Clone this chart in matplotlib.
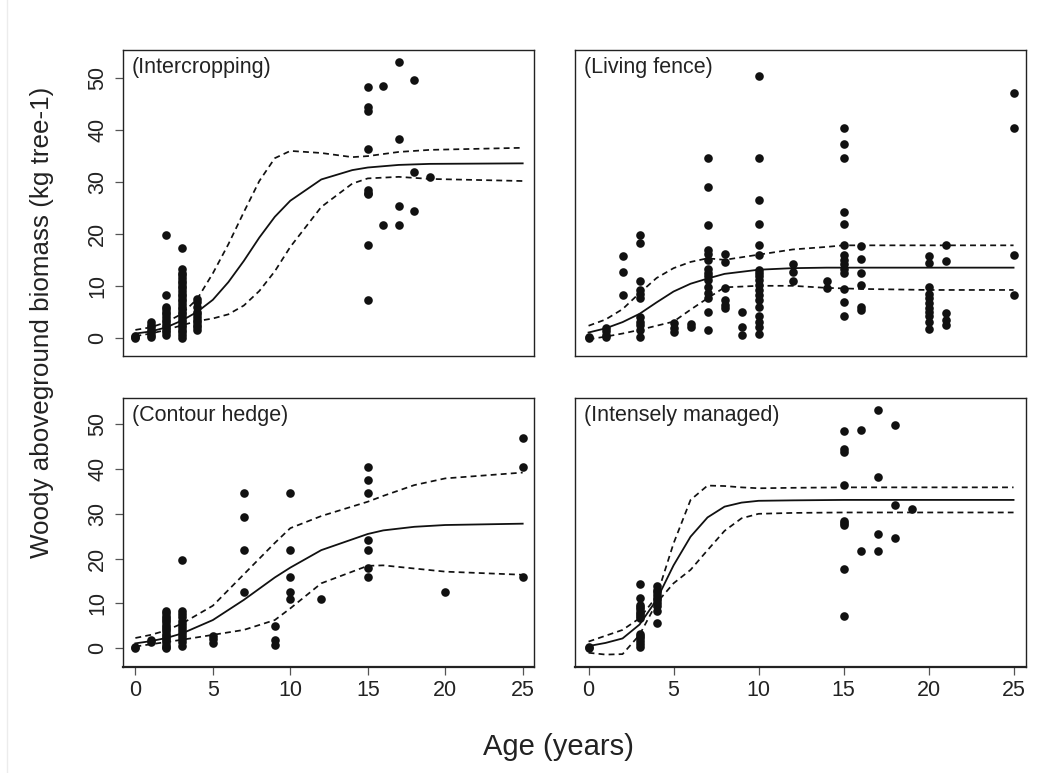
import matplotlib
matplotlib.use("Agg")
import matplotlib.pyplot as plt
from matplotlib.lines import Line2D
import numpy as np

plt.rcParams['font.family'] = ['Liberation Sans', 'DejaVu Sans']

W, H = 1052, 773

# ---- Intercropping: observed biomass per age
ic_ages = [0, 1, 2, 3, 4, 15, 16, 17, 18, 19]
ic_mass = [[0.0, 0.2, 0.4],
           [0.2, 0.6, 1.0, 1.5, 2.0, 2.5, 3.1],
           [19.8, 8.2, 6.0, 5.5, 5.0, 4.5, 4.0, 3.5, 3.0, 2.5, 2.0, 1.5, 1.0, 0.5],
           [17.2, 13.2, 12.5, 12.0, 11.5, 11.0, 10.5, 10.0, 9.5, 9.0, 8.5, 8.0, 7.5, 7.0, 6.5, 6.0,
            5.5, 5.0, 4.5, 4.0, 3.5, 3.0, 2.5, 2.0, 1.5, 1.0, 0.5, 0.0],
           [7.4, 6.8, 6.0, 5.0, 4.5, 4.0, 3.5, 3.0, 2.5, 2.0, 1.4],
           [48.4, 44.5, 43.7, 36.4, 28.5, 27.9, 27.6, 17.8, 7.2],
           [48.6, 21.8],
           [53.1, 38.2, 25.4, 21.8],
           [49.7, 31.9, 24.5],
           [31.0]]
ic_t = [0, 1, 2, 3, 4, 5, 6, 7, 8, 9, 10, 12, 14, 15, 17, 19, 25]
ic_fit = [0.8, 1.2, 2.0, 3.3, 5.0, 7.3, 10.7, 14.8, 19.3, 23.3, 26.4, 30.5, 32.3, 32.8, 33.3, 33.5, 33.6]
ic_hi = [1.5, 2.0, 3.0, 4.6, 7.5, 12.4, 18.0, 24.2, 30.2, 34.6, 36.0, 35.6, 34.8, 35.0, 35.8, 36.2, 36.6]
ic_lo = [0.3, 0.8, 1.5, 2.4, 3.2, 3.7, 4.5, 6.2, 9.0, 12.8, 17.5, 25.2, 29.7, 30.7, 31.0, 30.6, 30.2]

# ---- Living fence
lf_ages = [0, 1, 2, 3, 5, 6, 7, 8, 9, 10, 12, 14, 15, 16, 20, 21, 25]
lf_mass = [[0.0, 0.2],
           [1.8, 1.2, 0.6, 0.2],
           [15.7, 12.7, 8.2],
           [19.8, 18.2, 11.0, 9.2, 8.4, 7.6, 4.0, 3.0, 2.4, 1.4, 0.2],
           [2.9, 1.8, 1.0],
           [2.6, 2.1],
           [34.6, 29.0, 21.8, 16.9, 16.2, 15.0, 13.2, 12.4, 11.8, 11.1, 9.8, 8.6, 7.6, 5.0, 1.5],
           [16.2, 14.5, 9.5, 7.3, 6.3, 5.7],
           [4.9, 2.0, 0.5],
           [50.5, 34.6, 26.6, 21.9, 17.9, 16.0, 13.1, 12.5, 11.8, 11.2, 10.2, 9.2, 8.3, 7.3, 6.0,
            4.1, 3.1, 2.1, 0.8],
           [14.2, 12.6, 11.0],
           [11.0, 9.5],
           [40.5, 37.4, 34.6, 24.2, 21.9, 17.8, 16.0, 15.0, 14.2, 13.2, 12.4, 9.3, 6.9, 4.1],
           [17.7, 15.1, 12.4, 10.2, 6.0, 5.4],
           [15.7, 14.3, 9.8, 8.5, 7.6, 6.6, 5.7, 5.0, 4.1, 3.1, 1.6],
           [17.8, 14.7, 4.7, 3.4, 2.5],
           [47.1, 40.5, 16.0, 8.3]]
lf_t = [0, 1, 2, 3, 4, 5, 6, 7, 8, 10, 12, 14, 15, 16, 20, 21, 25]
lf_fit = [1.0, 1.8, 3.0, 4.6, 6.8, 8.9, 10.4, 11.4, 12.3, 13.1, 13.4, 13.5, 13.5, 13.5, 13.5, 13.5, 13.5]
lf_hi = [2.3, 3.5, 5.5, 8.6, 11.5, 13.4, 14.6, 15.3, 15.0, 16.0, 17.0, 17.5, 17.8, 17.8, 17.8, 17.8, 17.8]
lf_lo = [-0.3, 0.2, 0.8, 1.5, 2.3, 3.1, 5.4, 7.6, 9.7, 10.0, 10.0, 9.6, 9.5, 9.4, 9.2, 9.2, 9.2]

# ---- Contour hedge
ch_ages = [0, 1, 2, 3, 5, 7, 9, 10, 12, 15, 20, 25]
ch_mass = [[0.0, 0.2],
           [1.9, 1.5],
           [8.3, 7.8, 7.3, 6.8, 6.3, 5.8, 5.3, 4.8, 4.3, 3.8, 3.3, 2.8, 2.3, 1.8, 1.3, 0.8, 0.3, 0.0],
           [19.7, 8.3, 7.6, 6.9, 6.2, 5.5, 4.8, 4.1, 3.4, 2.7, 2.0, 1.3, 0.6],
           [2.8, 2.0, 1.2],
           [34.6, 29.2, 21.9, 12.5],
           [5.0, 1.9, 0.7],
           [34.6, 21.9, 16.0, 12.6, 10.9],
           [10.9],
           [40.5, 37.6, 34.6, 24.2, 21.9, 17.9, 16.0],
           [12.5],
           [47.0, 40.5, 16.0]]
ch_t = [0, 1, 2, 3, 5, 7, 9, 10, 12, 15, 16, 18, 20, 25]
ch_fit = [1.1, 1.6, 2.3, 3.3, 6.3, 10.8, 15.8, 18.0, 21.9, 25.5, 26.3, 27.1, 27.5, 27.8]
ch_hi = [2.3, 3.0, 4.0, 5.5, 9.5, 16.5, 23.5, 26.8, 29.5, 32.7, 34.0, 36.4, 37.9, 39.2]
ch_lo = [0.4, 0.9, 1.4, 1.9, 3.0, 4.1, 6.3, 8.9, 14.5, 18.4, 18.5, 17.8, 17.1, 16.4]

# ---- Intensely managed
im_ages = [0, 3, 4, 15, 16, 17, 18, 19]
im_mass = [[0.0, 0.3],
           [14.4, 11.2, 9.7, 9.2, 8.7, 8.2, 7.7, 7.2, 6.7, 3.2, 2.7, 2.2, 1.7, 1.0, 0.4],
           [13.8, 13.1, 12.5, 11.9, 11.3, 10.7, 10.1, 9.4, 8.3, 5.7],
           [48.4, 44.5, 43.7, 36.4, 28.5, 27.9, 27.6, 17.8, 7.2],
           [48.6, 21.8],
           [53.1, 38.2, 25.4, 21.8],
           [49.7, 31.9, 24.5],
           [31.0]]
im_t = [0, 1, 2, 3, 4, 5, 6, 7, 8, 9, 10, 12, 15, 25]
im_fit = [0.5, 1.2, 2.2, 5.3, 10.8, 18.5, 24.9, 29.2, 31.6, 32.5, 32.9, 33.0, 33.1, 33.1]
im_hi = [1.5, 2.8, 4.1, 6.7, 11.5, 23.4, 33.1, 36.3, 36.2, 35.9, 35.7, 35.8, 35.9, 35.9]
im_lo = [-1.0, -1.4, -1.3, 3.0, 10.1, 14.5, 17.5, 21.9, 26.2, 29.0, 30.0, 30.2, 30.3, 30.3]


def px_axes(fig, left, right, top, bottom):
    return fig.add_axes([left / W, (H - bottom) / H, (right - left) / W, (bottom - top) / H])


def draw_panel(ax, ages, mass, t, fit, hi, lo, title, ylim, show_x, show_y):
    x = np.repeat(ages, [len(m) for m in mass])
    y = np.concatenate(mass)
    ax.plot(x, y, 'o', color='#111111', markersize=6.2, markeredgewidth=0, zorder=3)
    ax.plot(t, fit, '-', color='#111111', lw=1.3)
    ax.plot(t, hi, '--', color='#111111', lw=1.25, dashes=(3.4, 2.4))
    ax.plot(t, lo, '--', color='#111111', lw=1.25, dashes=(3.4, 2.4))
    ax.set_xlim(-0.78, 25.75)
    ax.set_ylim(*ylim)
    for s in ax.spines.values():
        s.set_color('#222222')
        s.set_linewidth(1.0)
    ax.set_xticks([0, 5, 10, 15, 20, 25])
    ax.set_yticks([0, 10, 20, 30, 40, 50])
    ax.tick_params(direction='out', length=5.8, width=0.9, color='#555555',
                   labelsize=15.5, labelcolor='#222222', pad=4)
    ax.tick_params(axis='y', labelrotation=90, pad=5)
    if show_x:
        ax.spines['bottom'].set_linewidth(1.6)
    else:
        ax.tick_params(axis='x', bottom=False, labelbottom=False)
    if not show_y:
        ax.tick_params(axis='y', left=False, labelleft=False)
    else:
        for lab in ax.get_yticklabels():
            lab.set_va('center')
    ax.annotate(title, xy=(0, 1), xycoords='axes fraction', xytext=(6, -5),
                textcoords='offset points', ha='left', va='top', fontsize=15.5, color='#222222')


fig = plt.figure(figsize=(W / 100, H / 100), dpi=100)

ax1 = px_axes(fig, 123.3, 534.3, 50, 356)
ax2 = px_axes(fig, 575.3, 1026.3, 50, 356)
ax3 = px_axes(fig, 123.3, 534.3, 397.7, 666.5)
ax4 = px_axes(fig, 575.3, 1026.3, 397.7, 666.5)

top_lim = (-3.53, 55.45)
bot_lim = (-4.06, 55.9)
draw_panel(ax1, ic_ages, ic_mass, ic_t, ic_fit, ic_hi, ic_lo, '(Intercropping)', top_lim, False, True)
draw_panel(ax2, lf_ages, lf_mass, lf_t, lf_fit, lf_hi, lf_lo, '(Living fence)', top_lim, False, False)
draw_panel(ax3, ch_ages, ch_mass, ch_t, ch_fit, ch_hi, ch_lo, '(Contour hedge)', bot_lim, True, True)
draw_panel(ax4, im_ages, im_mass, im_t, im_fit, im_hi, im_lo, '(Intensely managed)', bot_lim, True, False)

fig.text(558 / W, 1 - 747 / H, 'Age (years)', ha='center', va='center', fontsize=21, color='#222222')
fig.text(42 / W, 1 - 322 / H, 'Woody aboveground biomass (kg tree-1)', ha='center', va='center',
         rotation=90, fontsize=18.7, color='#222222')

# faint frame line on the left edge of the original page
fig.add_artist(Line2D([7.3 / W, 7.3 / W], [0, 1], color='#ececec', lw=1.0))

fig.savefig('out.png', dpi=100)
